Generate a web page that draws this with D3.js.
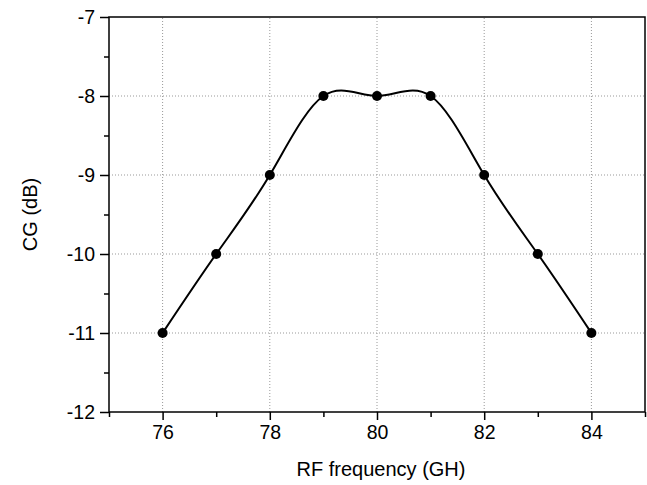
<!DOCTYPE html>
<html>
<head>
<meta charset="utf-8">
<script src="https://cdn.jsdelivr.net/npm/d3@7"></script>
<style>
  body { margin: 0; background: #fff; }
  text { font-family: "Liberation Sans", Arial, sans-serif; fill: #000; }
</style>
</head>
<body>
<svg id="chart" width="647" height="485"></svg>
<script>
// data
const freq = [76, 77, 78, 79, 80, 81, 82, 83, 84];
const cg = [-11, -10, -9, -8, -8, -8, -9, -10, -11];
const xMajor = [76, 78, 80, 82, 84];
const xMinor = [75, 77, 79, 81, 83, 85];
const yMajor = [-12, -11, -10, -9, -8, -7];
const yMinor = [-11.5, -10.5, -9.5, -8.5, -7.5];

const W = 647, H = 485;
const pad = {left: 109, right: 2, top: 17, bottom: 73};

const svg = d3.select('#chart');

const x = d3.scaleLinear().domain([75, 85]).range([pad.left, W - pad.right]);
const y = d3.scaleLinear().domain([-12, -7]).range([H - pad.bottom, pad.top]);

// grid
const grid = svg.append('g');
grid.selectAll('.vg').data(xMajor.filter(d => d > 75 && d < 85)).join('line')
  .attr('x1', d => x(d)).attr('x2', d => x(d))
  .attr('y1', y(-12)).attr('y2', y(-7))
  .attr('stroke', '#999').attr('stroke-width', 1).attr('stroke-dasharray', '1,2');
grid.selectAll('.hg').data(yMajor.filter(d => d > -12 && d < -7)).join('line')
  .attr('y1', d => y(d)).attr('y2', d => y(d))
  .attr('x1', x(75)).attr('x2', x(85))
  .attr('stroke', '#999').attr('stroke-width', 1).attr('stroke-dasharray', '1,2');

// frame
svg.append('rect')
  .attr('x', x(75)).attr('y', y(-7))
  .attr('width', x(85) - x(75)).attr('height', y(-12) - y(-7))
  .attr('fill', 'none').attr('stroke', '#000').attr('stroke-width', 1.5);

// axes
const axX = svg.append('g')
  .attr('transform', `translate(0, ${y(-12)})`)
  .call(d3.axisBottom(x).tickValues(xMajor).tickSize(8).tickPadding(5).tickFormat(d => d));
const axXm = svg.append('g')
  .attr('transform', `translate(0, ${y(-12)})`)
  .call(d3.axisBottom(x).tickValues(xMinor).tickSize(5).tickFormat(''));
const axY = svg.append('g')
  .attr('transform', `translate(${x(75)}, 0)`)
  .call(d3.axisLeft(y).tickValues(yMajor).tickSize(9).tickPadding(5).tickFormat(d => d));
const axYm = svg.append('g')
  .attr('transform', `translate(${x(75)}, 0)`)
  .call(d3.axisLeft(y).tickValues(yMinor).tickSize(5).tickFormat(''));

[axX, axXm, axY, axYm].forEach(a => {
  a.select('.domain').remove();
  a.selectAll('line').attr('stroke', '#000').attr('stroke-width', 1.5);
  a.selectAll('text').attr('font-size', 19.5).attr('font-family', '"Liberation Sans", Arial, sans-serif').attr('fill', '#000');
});
axY.selectAll('text').attr('dy', '0.35em');

// axis titles
svg.append('text')
  .attr('x', 381).attr('y', 476)
  .attr('text-anchor', 'middle').attr('font-size', 20)
  .text('RF frequency (GH)');
svg.append('text')
  .attr('transform', `translate(37, ${(y(-7) + y(-12)) / 2}) rotate(-90)`)
  .attr('text-anchor', 'middle').attr('font-size', 20)
  .text('CG (dB)');

// curve
const pts = freq.map((f, i) => [f, cg[i]]);
svg.append('path')
  .datum(pts)
  .attr('d', d3.line().x(d => x(d[0])).y(d => y(d[1])).curve(d3.curveNatural))
  .attr('fill', 'none').attr('stroke', '#000').attr('stroke-width', 2);

svg.selectAll('.pt').data(pts).join('circle')
  .attr('cx', d => x(d[0])).attr('cy', d => y(d[1]))
  .attr('r', 5).attr('fill', '#000');
</script>
</body>
</html>
